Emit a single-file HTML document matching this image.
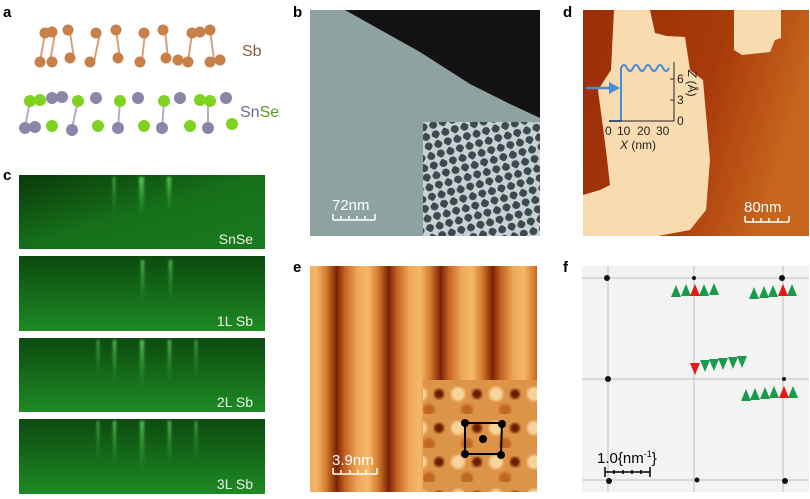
<!DOCTYPE html>
<html><head><meta charset="utf-8"><style>
body{margin:0;background:#fff;width:810px;height:494px;overflow:hidden;font-family:"Liberation Sans",sans-serif}
svg text{font-family:"Liberation Sans",sans-serif}
</style></head><body>
<svg width="810" height="494" viewBox="0 0 810 494" xmlns="http://www.w3.org/2000/svg">
<defs>
<linearGradient id="dg" x1="0" y1="0" x2="1" y2="0.3"><stop offset="0" stop-color="#9a2e06"/><stop offset="0.6" stop-color="#a83a0a"/><stop offset="1" stop-color="#c8661e"/></linearGradient>
<linearGradient id="g1" x1="0" y1="0" x2="1" y2="1"><stop offset="0" stop-color="#0a3a0a"/><stop offset="0.5" stop-color="#16701a"/><stop offset="1" stop-color="#1a7a1e"/></linearGradient>
<linearGradient id="g2" x1="0" y1="0" x2="0" y2="1"><stop offset="0" stop-color="#0d4a10"/><stop offset="1" stop-color="#1e8a24"/></linearGradient>
<linearGradient id="streak" x1="0" y1="0" x2="0" y2="1"><stop offset="0" stop-color="#7dff7d" stop-opacity="0.7"/><stop offset="1" stop-color="#40d040" stop-opacity="0"/></linearGradient>
<filter id="bl"><feGaussianBlur stdDeviation="1.2"/></filter>
<filter id="bl2"><feGaussianBlur stdDeviation="3"/></filter>
<pattern id="chk" width="14" height="14" patternUnits="userSpaceOnUse" patternTransform="rotate(30)"><rect width="14" height="14" fill="#c8d2d4"/><circle cx="3.5" cy="3.5" r="4" fill="#3c4a50"/><circle cx="10.5" cy="10.5" r="4" fill="#3c4a50"/></pattern>
<linearGradient id="sg" x1="0" y1="0" x2="1" y2="0"><stop offset="0" stop-color="#f4b868"/><stop offset="0.2" stop-color="#d47a2c"/><stop offset="0.4" stop-color="#7a2204"/><stop offset="0.55" stop-color="#c46020"/><stop offset="0.8" stop-color="#eea858"/><stop offset="1" stop-color="#f4b868"/></linearGradient>
<pattern id="stripe" width="52" height="10" patternUnits="userSpaceOnUse" x="316"><rect width="52" height="10" fill="url(#sg)"/></pattern>
<pattern id="ins" width="38" height="34" patternUnits="userSpaceOnUse" x="410" y="380"><rect width="38" height="34" fill="#dc9448"/><circle cx="10" cy="14" r="7" fill="#f8d49c" filter="url(#bl)"/><circle cx="29" cy="14" r="5" fill="#6a1a04" filter="url(#bl)"/><circle cx="19" cy="30" r="6" fill="#c06820" filter="url(#bl)"/></pattern>
</defs>
<!-- a -->
<text x="3" y="17" font-size="15" font-weight="bold">a</text>
<g stroke="#d8a07a" stroke-width="2">
<line x1="45" y1="33" x2="40" y2="62"/><line x1="55" y1="33" x2="50" y2="62"/><line x1="70" y1="33" x2="74" y2="58"/><line x1="100" y1="33" x2="94" y2="62"/><line x1="116" y1="30" x2="120" y2="58"/><line x1="145" y1="33" x2="142" y2="60"/><line x1="165" y1="30" x2="168" y2="58"/><line x1="192" y1="33" x2="188" y2="62"/><line x1="210" y1="30" x2="214" y2="60"/>
</g>
<g fill="#c8804a">
<circle cx="45" cy="33" r="5.5"/><circle cx="52" cy="32" r="5.5"/><circle cx="68" cy="30" r="5.5"/><circle cx="96" cy="33" r="5.5"/><circle cx="116" cy="30" r="5.5"/><circle cx="144" cy="33" r="5.5"/><circle cx="163" cy="30" r="5.5"/><circle cx="192" cy="33" r="5.5"/><circle cx="200" cy="32" r="5.5"/><circle cx="210" cy="30" r="5.5"/>
<circle cx="40" cy="62" r="5.5"/><circle cx="52" cy="62" r="5.5"/><circle cx="70" cy="58" r="5.5"/><circle cx="90" cy="62" r="5.5"/><circle cx="118" cy="58" r="5.5"/><circle cx="140" cy="62" r="5.5"/><circle cx="166" cy="58" r="5.5"/><circle cx="178" cy="60" r="5.5"/><circle cx="188" cy="62" r="5.5"/><circle cx="210" cy="62" r="5.5"/><circle cx="220" cy="60" r="5.5"/>
</g>
<text x="242" y="56" font-size="16" fill="#8b5a3a">Sb</text>
<g stroke="#b0aec8" stroke-width="2"><line x1="30" y1="101" x2="25" y2="128"/><line x1="78" y1="101" x2="72" y2="128"/><line x1="120" y1="101" x2="118" y2="128"/><line x1="164" y1="101" x2="162" y2="128"/><line x1="208" y1="101" x2="208" y2="128"/></g>
<g>
<circle cx="30" cy="101" r="6" fill="#7ed321"/><circle cx="40" cy="100" r="6" fill="#7ed321"/><circle cx="52" cy="98" r="6" fill="#8a86a8"/><circle cx="62" cy="97" r="6" fill="#8a86a8"/><circle cx="78" cy="101" r="6" fill="#7ed321"/><circle cx="96" cy="98" r="6" fill="#8a86a8"/><circle cx="120" cy="101" r="6" fill="#7ed321"/><circle cx="138" cy="98" r="6" fill="#8a86a8"/><circle cx="164" cy="101" r="6" fill="#7ed321"/><circle cx="180" cy="98" r="6" fill="#8a86a8"/><circle cx="200" cy="100" r="6" fill="#7ed321"/><circle cx="210" cy="101" r="6" fill="#7ed321"/><circle cx="226" cy="98" r="6" fill="#8a86a8"/>
<circle cx="25" cy="128" r="6" fill="#8a86a8"/><circle cx="35" cy="127" r="6" fill="#8a86a8"/><circle cx="52" cy="126" r="6" fill="#7ed321"/><circle cx="72" cy="130" r="6" fill="#8a86a8"/><circle cx="98" cy="126" r="6" fill="#7ed321"/><circle cx="118" cy="128" r="6" fill="#8a86a8"/><circle cx="144" cy="126" r="6" fill="#7ed321"/><circle cx="162" cy="128" r="6" fill="#8a86a8"/><circle cx="190" cy="126" r="6" fill="#7ed321"/><circle cx="208" cy="128" r="6" fill="#8a86a8"/><circle cx="232" cy="124" r="6" fill="#7ed321"/>
</g>
<text x="240" y="117" font-size="16" fill="#6c6a8a">Sn<tspan fill="#5a9a1a">Se</tspan></text>
<!-- b -->
<text x="293" y="17" font-size="15" font-weight="bold">b</text>
<rect x="310" y="10" width="230" height="226" fill="#8fa2a2"/>
<polygon points="345,10 540,10 540,118 510,104 470,84 420,52" fill="#121212"/>
<rect x="423" y="122" width="117" height="114" fill="url(#chk)"/>
<text x="332" y="210" font-size="15" fill="#fff">72nm</text>
<path d="M333 220 H375 M333 214 V220 M341 216 V220 M349 216 V220 M357 216 V220 M365 216 V220 M375 214 V220" stroke="#fff" stroke-width="1.5" fill="none"/>
<!-- c -->
<text x="3" y="180" font-size="15" font-weight="bold">c</text>
<rect x="19" y="175" width="246" height="74" fill="url(#g1)"/>
<rect x="19" y="256" width="246" height="75" fill="url(#g2)"/>
<rect x="19" y="338" width="246" height="74" fill="url(#g2)"/>
<rect x="19" y="419" width="246" height="75" fill="url(#g2)"/>
<g fill="url(#streak)" filter="url(#bl)">
<rect x="139" y="177" width="5" height="40"/><rect x="167" y="177" width="4" height="35"/><rect x="113" y="177" width="2" height="40"/>
<rect x="141" y="260" width="3" height="45"/><rect x="169" y="260" width="3" height="40"/>
<rect x="97" y="340" width="2" height="40"/><rect x="113" y="340" width="3" height="45"/><rect x="140" y="340" width="4" height="50"/><rect x="168" y="340" width="3" height="45"/><rect x="195" y="340" width="2" height="40"/>
<rect x="97" y="421" width="2" height="40"/><rect x="113" y="421" width="3" height="45"/><rect x="140" y="421" width="4" height="50"/><rect x="168" y="421" width="3" height="45"/><rect x="195" y="421" width="2" height="40"/>
</g>
<g font-size="14" fill="#e8f4e8" text-anchor="end">
<text x="253" y="244">SnSe</text><text x="253" y="326">1L Sb</text><text x="253" y="407">2L Sb</text><text x="253" y="489">3L Sb</text>
</g>
<!-- d -->
<text x="563" y="17" font-size="15" font-weight="bold">d</text>
<rect x="583" y="10" width="226" height="226" fill="url(#dg)"/>
<polygon points="614,10 650,10 655,33 667,36 685,37 690,70 703,80 710,160 706,210 690,230 658,236 583,236 583,195 600,190 610,185 606,150 598,90 611,70 613,30" fill="#f8dcb0"/>
<polygon points="734,10 781,10 781,38 775,40 770,52 742,55 734,50" fill="#f8dcb0"/>
<text x="744" y="212" font-size="15" fill="#fff">80nm</text>
<path d="M745 222 H789 M745 216 V222 M753 218 V222 M761 218 V222 M769 218 V222 M778 218 V222 M789 216 V222" stroke="#fff" stroke-width="1.5" fill="none"/>
<path d="M609 121 H621 V68 Q624 62 627 68 T633 68 T639 68 T645 68 T651 68 T657 68 T663 68 T669 68" stroke="#4a8ad8" stroke-width="2" fill="none"/>
<path d="M586 88 H612" stroke="#4a8ad8" stroke-width="2.5"/><polygon points="620,88 609,82 609,94" fill="#4a8ad8"/>
<path d="M609 121 H674 V62 M670 79 H674 M670 100 H674" stroke="#222" stroke-width="1" fill="none"/>
<g font-size="12" fill="#222"><text x="605" y="135">0</text><text x="617" y="135">10</text><text x="637" y="135">20</text><text x="656" y="135">30</text><text x="677" y="125">0</text><text x="677" y="104">3</text><text x="677" y="83">6</text>
<text x="620" y="149"><tspan font-style="italic">X</tspan> (nm)</text>
<text transform="translate(688,70) rotate(90)" font-size="12"><tspan font-style="italic">Z</tspan> (Å)</text></g>
<!-- e -->
<text x="293" y="272" font-size="15" font-weight="bold">e</text>
<rect x="310" y="266" width="227" height="226" fill="url(#stripe)"/>
<rect x="423" y="380" width="114" height="112" fill="url(#ins)"/>
<path d="M465 423 H502 L501 454 H465 Z" stroke="#000" stroke-width="2" fill="none"/>
<g fill="#000"><circle cx="465" cy="423" r="4"/><circle cx="502" cy="424" r="4"/><circle cx="465" cy="454" r="4"/><circle cx="501" cy="455" r="4"/><circle cx="483" cy="439" r="4"/></g>
<text x="332" y="465" font-size="15" fill="#fff">3.9nm</text>
<path d="M333 474 H377 M333 468 V474 M341 470 V474 M350 470 V474 M358 470 V474 M366 470 V474 M377 468 V474" stroke="#fff" stroke-width="1.5" fill="none"/>
<!-- f -->
<text x="563" y="272" font-size="15" font-weight="bold">f</text>
<rect x="582" y="266" width="227" height="226" fill="#f3f3f3"/>
<g stroke="#c8c8c8" stroke-width="1.2">
<line x1="608" y1="266" x2="608" y2="492"/><line x1="694" y1="266" x2="694" y2="492"/><line x1="783" y1="266" x2="783" y2="492"/>
<line x1="582" y1="278" x2="809" y2="278"/><line x1="582" y1="379" x2="809" y2="379"/><line x1="582" y1="480" x2="809" y2="480"/>
</g>
<g fill="#111"><circle cx="607" cy="278" r="3"/><circle cx="694" cy="278" r="2"/><circle cx="782" cy="278" r="3"/><circle cx="608" cy="379" r="3"/><circle cx="784" cy="379" r="2"/><circle cx="609" cy="481" r="3"/><circle cx="697" cy="480" r="2.5"/><circle cx="785" cy="481" r="3"/></g>
<g fill="#1a9a4a">
<polygon points="676,285 671,297 681,297"/><polygon points="686,284 681,296 691,296"/><polygon points="704,284 699,296 709,296"/><polygon points="714,283 709,295 719,295"/>
<polygon points="754,287 749,299 759,299"/><polygon points="764,286 759,298 769,298"/><polygon points="773,285 768,297 778,297"/><polygon points="792,284 787,296 797,296"/>
<polygon points="705,372 700,360 710,360"/><polygon points="714,371 709,359 719,359"/><polygon points="723,370 718,358 728,358"/><polygon points="733,369 728,357 738,357"/><polygon points="742,368 737,356 747,356"/>
<polygon points="746,389 741,401 751,401"/><polygon points="755,388 750,400 760,400"/><polygon points="765,387 760,399 770,399"/><polygon points="774,386 769,398 779,398"/><polygon points="793,386 788,398 798,398"/>
</g>
<g fill="#e81818"><polygon points="695,284 690,296 700,296"/><polygon points="783,284 778,296 788,296"/><polygon points="695,375 690,363 700,363"/><polygon points="784,386 779,398 789,398"/></g>
<text x="597" y="463" font-size="15" fill="#000">1.0{nm<tspan font-size="9" dy="-6">-1</tspan><tspan dy="6">}</tspan></text>
<path d="M605 472 H650 M605 467 V477 M614 470 V474 M623 470 V474 M632 470 V474 M641 470 V474 M650 467 V477" stroke="#000" stroke-width="1.5" fill="none"/>
</svg>
</body></html>
